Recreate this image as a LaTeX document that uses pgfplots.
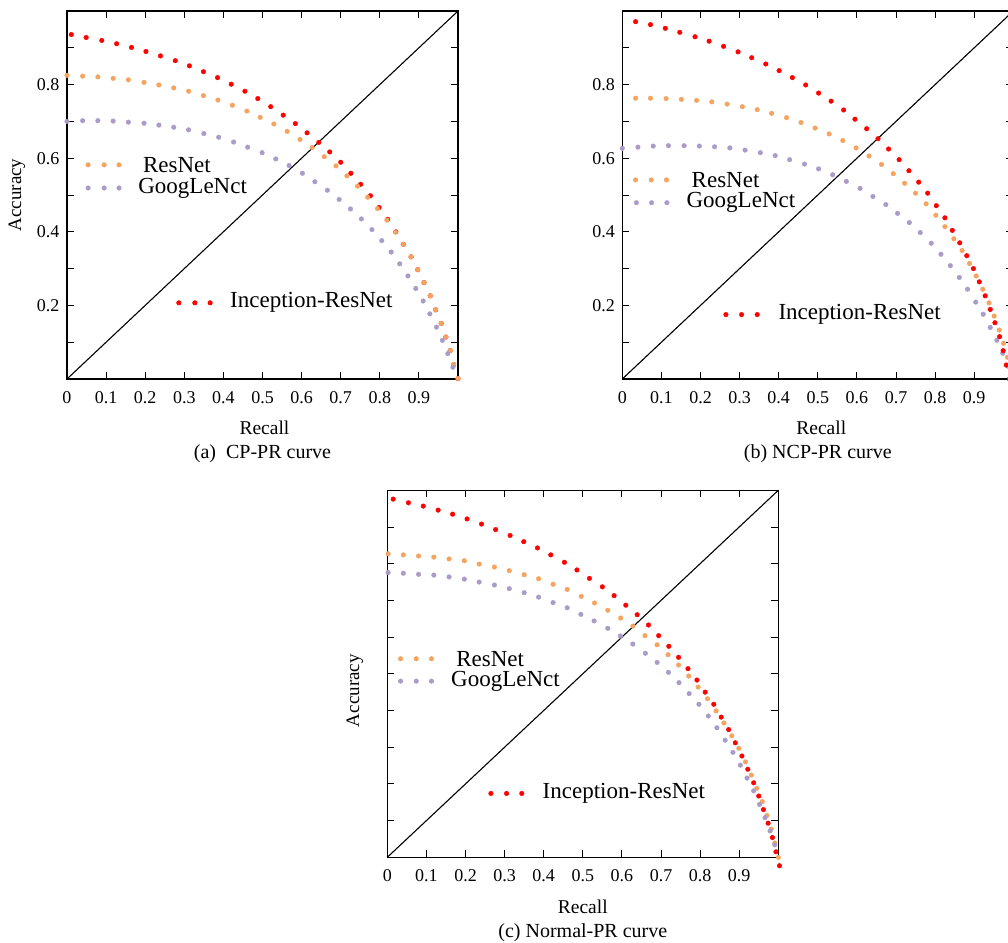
\documentclass[border=0pt]{standalone}
\usepackage{fontspec}
\setmainfont{Liberation Serif}
\usepackage{pgfplots}
\pgfplotsset{compat=1.18}
\definecolor{cred}{RGB}{255,0,0}
\definecolor{corange}{RGB}{245,164,96}
\definecolor{cpurple}{RGB}{170,156,200}
\tikzset{
  legtext/.style={anchor=west, font=\fontsize{23bp}{26bp}\selectfont, inner sep=0pt},
  captext/.style={font=\fontsize{20bp}{22bp}\selectfont},
}
\pgfplotsset{
  prpanel/.style={
    anchor=south west,
    scale only axis,
    width=391bp, height=368bp,
    xmin=0, xmax=1, ymin=0, ymax=1,
    clip=false,
    axis line style={line width=1.3bp},
    tick style={black, line width=1bp},
    major tick length=7bp,
    tick align=inside,
    xtick={0,0.1,0.2,0.3,0.4,0.5,0.6,0.7,0.8,0.9},
    xticklabels={0,0.1,0.2,0.3,0.4,0.5,0.6,0.7,0.8,0.9},
    ytick={0.1,0.2,0.3,0.4,0.5,0.6,0.7,0.8,0.9},
    yticklabels={,0.2,,0.4,,0.6,,0.8,},
    /pgf/number format/assume math mode=true,
    ticklabel style={font=\fontsize{18bp}{20bp}\selectfont},
    xticklabel style={yshift=-9bp},
    yticklabel style={xshift=-4bp},
    xlabel style={font=\fontsize{19.5bp}{22bp}\selectfont},
    ylabel style={font=\fontsize{19bp}{22bp}\selectfont},
  },
  dotsR/.style={only marks, mark=*, mark size=2.3bp, color=cred, mark options={draw=none, fill=cred}},
  dotsO/.style={only marks, mark=*, mark size=2.3bp, color=corange, mark options={draw=none, fill=corange}},
  dotsP/.style={only marks, mark=*, mark size=2.3bp, color=cpurple, mark options={draw=none, fill=cpurple}},
}
\begin{document}
\begin{tikzpicture}
% ---------------- (a) ----------------
\begin{axis}[prpanel, at={(67bp,-379bp)},
  xlabel={Recall}, xlabel style={at={(axis description cs:0.505,-0.133)}, anchor=center},
  ylabel={Accuracy}, ylabel style={at={(axis description cs:-0.128,0.5)}, anchor=center}]
\addplot[black, line width=1.1bp, forget plot] coordinates {(0,0) (1,1)};
\addplot[dotsR] coordinates {
(0.011,0.936)(0.049,0.928)(0.089,0.920)(0.127,0.911)(0.165,0.901)(0.202,0.890)
(0.239,0.878)(0.277,0.865)(0.313,0.851)(0.349,0.835)(0.385,0.819)(0.420,0.801)
(0.455,0.782)(0.488,0.762)(0.521,0.740)(0.553,0.717)(0.584,0.694)(0.614,0.669)
(0.644,0.643)(0.672,0.617)(0.700,0.589)(0.726,0.559)(0.751,0.529)(0.776,0.498)
(0.798,0.466)(0.820,0.434)(0.841,0.400)(0.860,0.366)(0.880,0.332)(0.897,0.297)
(0.913,0.262)(0.929,0.226)(0.943,0.188)(0.957,0.151)(0.969,0.114)(0.980,0.077)
(0.989,0.039)(1.000,0.001)};
\addplot[dotsO] coordinates {
(0.000,0.825)(0.040,0.823)(0.079,0.821)(0.118,0.817)(0.157,0.813)(0.197,0.806)
(0.235,0.799)(0.273,0.791)(0.311,0.782)(0.349,0.770)(0.386,0.758)(0.423,0.744)
(0.460,0.728)(0.494,0.711)(0.529,0.693)(0.563,0.673)(0.596,0.651)(0.627,0.629)
(0.658,0.604)(0.688,0.579)(0.716,0.552)(0.743,0.524)(0.769,0.494)(0.794,0.463)
(0.818,0.432)(0.840,0.399)(0.860,0.366)(0.880,0.332)(0.897,0.297)(0.913,0.262)
(0.929,0.226)(0.943,0.188)(0.957,0.151)(0.969,0.114)(0.980,0.077)(0.989,0.039)
(1.000,0.001)};
\addplot[dotsP] coordinates {
(0.000,0.700)(0.040,0.702)(0.079,0.702)(0.118,0.701)(0.157,0.698)(0.197,0.695)
(0.235,0.690)(0.273,0.684)(0.311,0.677)(0.350,0.667)(0.388,0.657)(0.426,0.644)
(0.462,0.630)(0.499,0.615)(0.534,0.598)(0.568,0.580)(0.602,0.559)(0.634,0.536)
(0.666,0.513)(0.696,0.488)(0.725,0.462)(0.753,0.435)(0.780,0.406)(0.805,0.376)
(0.829,0.345)(0.851,0.313)(0.872,0.280)(0.892,0.246)(0.911,0.212)(0.928,0.177)
(0.945,0.141)(0.960,0.105)(0.974,0.069)(0.987,0.032)};
% legend
\addplot[dotsO] coordinates {(0.054,0.582)(0.095,0.582)(0.133,0.582)};
\addplot[dotsP] coordinates {(0.054,0.519)(0.095,0.519)(0.133,0.519)};
\addplot[dotsR] coordinates {(0.286,0.207)(0.327,0.207)(0.366,0.207)};
\node[legtext] at (axis cs:0.194,0.582) {ResNet};
\node[legtext] at (axis cs:0.182,0.519) {GoogLeNct};
\node[legtext] at (axis cs:0.417,0.207) {Inception-ResNet};
\node[captext] at (axis description cs:0.5,-0.204) {(a)\ \ CP-PR curve};
\end{axis}
% ---------------- (b) ----------------
\begin{axis}[prpanel, at={(622.3bp,-379bp)},
  xlabel={Recall}, xlabel style={at={(axis description cs:0.509,-0.133)}, anchor=center}]
\addplot[black, line width=1.1bp, forget plot] coordinates {(0,0) (1,1)};
\addplot[dotsO] coordinates {
(0.034,0.763)(0.072,0.763)(0.112,0.762)(0.151,0.760)(0.190,0.757)(0.229,0.753)
(0.268,0.747)(0.307,0.740)(0.345,0.732)(0.382,0.722)(0.420,0.710)(0.457,0.697)
(0.493,0.682)(0.529,0.666)(0.564,0.648)(0.598,0.628)(0.631,0.606)(0.663,0.583)
(0.693,0.558)(0.722,0.532)(0.750,0.505)(0.777,0.476)(0.802,0.445)(0.825,0.414)
(0.848,0.381)(0.869,0.349)(0.888,0.314)(0.905,0.280)(0.922,0.244)(0.938,0.207)
(0.951,0.171)(0.964,0.133)(0.975,0.097)(0.985,0.059)(0.994,0.021)};
\addplot[dotsP] coordinates {
(0.000,0.627)(0.040,0.630)(0.079,0.633)(0.118,0.634)(0.158,0.634)(0.197,0.633)
(0.236,0.631)(0.275,0.628)(0.314,0.622)(0.353,0.615)(0.391,0.607)(0.428,0.596)
(0.466,0.584)(0.502,0.571)(0.538,0.555)(0.573,0.537)(0.608,0.518)(0.641,0.496)
(0.674,0.474)(0.704,0.450)(0.734,0.425)(0.762,0.398)(0.790,0.369)(0.815,0.339)
(0.839,0.308)(0.862,0.276)(0.883,0.244)(0.904,0.209)(0.923,0.176)(0.941,0.140)
(0.958,0.105)(0.973,0.070)(0.986,0.035)};
\addplot[dotsR] coordinates {
(0.034,0.971)(0.072,0.963)(0.110,0.953)(0.147,0.942)(0.186,0.930)(0.222,0.918)
(0.259,0.904)(0.296,0.889)(0.331,0.873)(0.367,0.856)(0.401,0.838)(0.435,0.819)
(0.469,0.799)(0.502,0.777)(0.534,0.755)(0.566,0.731)(0.595,0.706)(0.625,0.680)
(0.654,0.653)(0.681,0.625)(0.708,0.596)(0.733,0.566)(0.758,0.535)(0.781,0.505)
(0.803,0.471)(0.825,0.438)(0.844,0.404)(0.863,0.370)(0.881,0.335)(0.898,0.300)
(0.913,0.264)(0.928,0.226)(0.941,0.189)(0.953,0.153)(0.965,0.115)(0.974,0.077)
(0.982,0.038)(0.990,0.000)};
% legend
\addplot[dotsO] coordinates {(0.034,0.541)(0.074,0.541)(0.113,0.541)};
\addplot[dotsP] coordinates {(0.036,0.479)(0.075,0.479)(0.114,0.479)};
\addplot[dotsR] coordinates {(0.265,0.175)(0.305,0.175)(0.345,0.175)};
\node[legtext] at (axis cs:0.177,0.541) {ResNet};
\node[legtext] at (axis cs:0.164,0.479) {GoogLeNct};
\node[legtext] at (axis cs:0.399,0.175) {Inception-ResNet};
\node[captext] at (axis description cs:0.50,-0.204) {(b) NCP-PR curve};
\end{axis}
% ---------------- (c) ----------------
\begin{axis}[prpanel, at={(387.3bp,-857.3bp)}, height=367bp,
  yticklabels={},
  xlabel={Recall}, xlabel style={at={(axis description cs:0.5,-0.135)}, anchor=center},
  ylabel={Accuracy}, ylabel style={at={(axis description cs:-0.083,0.454)}, anchor=center}]
\addplot[black, line width=1.1bp, forget plot] coordinates {(0,0) (1,1)};
\addplot[dotsO] coordinates {
(0.002,0.827)(0.041,0.824)(0.080,0.821)(0.119,0.818)(0.158,0.813)(0.197,0.808)
(0.235,0.799)(0.274,0.791)(0.312,0.781)(0.350,0.770)(0.387,0.759)(0.424,0.744)
(0.460,0.730)(0.496,0.711)(0.530,0.693)(0.564,0.673)(0.597,0.652)(0.628,0.630)
(0.659,0.604)(0.690,0.579)(0.718,0.552)(0.745,0.524)(0.771,0.494)(0.795,0.464)
(0.819,0.432)(0.841,0.399)(0.861,0.366)(0.881,0.331)(0.899,0.297)(0.916,0.260)
(0.931,0.224)(0.945,0.188)(0.959,0.152)(0.971,0.114)(0.982,0.077)(0.991,0.039)
(1.000,0.000)};
\addplot[dotsP] coordinates {
(0.002,0.776)(0.041,0.774)(0.080,0.771)(0.119,0.769)(0.158,0.764)(0.197,0.758)
(0.235,0.750)(0.274,0.742)(0.312,0.732)(0.350,0.721)(0.387,0.709)(0.424,0.694)
(0.460,0.680)(0.495,0.662)(0.529,0.644)(0.564,0.624)(0.596,0.603)(0.628,0.581)
(0.660,0.556)(0.690,0.531)(0.719,0.504)(0.746,0.476)(0.772,0.446)(0.797,0.417)
(0.821,0.385)(0.843,0.353)(0.864,0.319)(0.884,0.286)(0.903,0.251)(0.920,0.216)
(0.937,0.181)(0.952,0.144)(0.966,0.108)(0.979,0.072)(0.991,0.034)};
\addplot[dotsR] coordinates {
(0.015,0.976)(0.054,0.966)(0.092,0.957)(0.130,0.946)(0.167,0.935)(0.204,0.922)
(0.241,0.908)(0.277,0.893)(0.314,0.877)(0.349,0.860)(0.384,0.843)(0.418,0.824)
(0.453,0.804)(0.485,0.783)(0.517,0.760)(0.550,0.737)(0.580,0.713)(0.610,0.687)
(0.639,0.661)(0.668,0.633)(0.694,0.604)(0.720,0.575)(0.745,0.545)(0.769,0.514)
(0.792,0.483)(0.813,0.450)(0.835,0.417)(0.854,0.382)(0.873,0.348)(0.890,0.312)
(0.907,0.276)(0.922,0.240)(0.937,0.203)(0.950,0.167)(0.962,0.130)(0.974,0.093)
(0.985,0.054)(0.994,0.015)(1.003,-0.023)};
% legend
\addplot[dotsO] coordinates {(0.034,0.541)(0.074,0.541)(0.113,0.541)};
\addplot[dotsP] coordinates {(0.034,0.480)(0.074,0.480)(0.113,0.480)};
\addplot[dotsR] coordinates {(0.265,0.174)(0.305,0.174)(0.344,0.174)};
\node[legtext] at (axis cs:0.176,0.541) {ResNet};
\node[legtext] at (axis cs:0.163,0.480) {GoogLeNct};
\node[legtext] at (axis cs:0.397,0.174) {Inception-ResNet};
\node[captext] at (axis description cs:0.5,-0.206) {(c) Normal-PR curve};
\end{axis}
\pgfresetboundingbox
\path[use as bounding box] (0bp,0bp) rectangle (1008bp,-943bp);
\end{tikzpicture}
\end{document}
